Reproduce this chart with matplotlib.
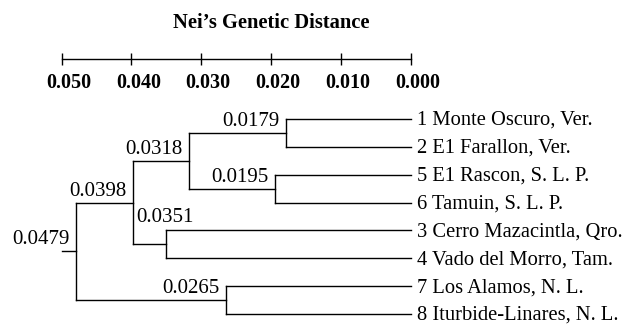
import matplotlib
matplotlib.use("Agg")
import matplotlib.pyplot as plt

plt.rcParams['font.family'] = ['Liberation Serif', 'DejaVu Serif']

# leaves, top to bottom
leaves = ["1 Monte Oscuro, Ver.", "2 E1 Farallon, Ver.", "5 E1 Rascon, S. L. P.",
          "6 Tamuin, S. L. P.", "3 Cerro Mazacintla, Qro.", "4 Vado del Morro, Tam.",
          "7 Los Alamos, N. L.", "8 Iturbide-Linares, N. L."]

# merges: (child a, child b, distance); new node ids continue after the leaves
merge_a = [0, 2, 8, 4, 10, 6, 12]
merge_b = [1, 3, 9, 5, 11, 7, 13]
merge_d = [0.0179, 0.0195, 0.0318, 0.0351, 0.0398, 0.0265, 0.0479]
root_stub = 0.050

scale_ticks = [0.050, 0.040, 0.030, 0.020, 0.010, 0.000]
scale_labels = ["0.050", "0.040", "0.030", "0.020", "0.010", "0.000"]

W, H = 633, 324
fig = plt.figure(figsize=(W / 100, H / 100), dpi=100)

# tree axes, whole figure
ax = fig.add_axes([0, 0, 1, 1])
px = 1 / 6990.0
xlim = (411 * px, -(W - 411) * px)
ax.set_xlim(*xlim)
step = (314 - 119) / 7.0
ax.set_ylim(7 + (H - 314) / step, -119 / step)
ax.axis('off')

xs = [0.0] * len(leaves)
ys = list(range(len(leaves)))
lw = 1.0
for a, b, d in zip(merge_a, merge_b, merge_d):
    ax.plot([d, d], [ys[a], ys[b]], color='black', lw=lw)
    ax.plot([xs[a], d], [ys[a], ys[a]], color='black', lw=lw)
    ax.plot([xs[b], d], [ys[b], ys[b]], color='black', lw=lw)
    xs.append(d)
    ys.append((ys[a] + ys[b]) / 2)
    if d == 0.0351:
        off = (20, 16)
    else:
        off = (-4.5, 5)
    ax.annotate(f"{d:.4f}", (d, ys[-1]), xytext=off, textcoords='offset points',
                ha='right', va='baseline', fontsize=15)
ax.plot([xs[-1], root_stub], [ys[-1], ys[-1]], color='black', lw=lw)

for i, name in enumerate(leaves):
    ax.annotate(name, (0, i), xytext=(4, -4.3), textcoords='offset points',
                ha='left', va='baseline', fontsize=14.8)

# scale bar, same distance scale as the tree
sax = fig.add_axes([0, (H - 58.5) / H, 1, 0.001])
sax.set_xlim(*xlim)
sax.set_ylim(0, 1)
for s in ['top', 'left', 'right']:
    sax.spines[s].set_visible(False)
sax.spines['bottom'].set_linewidth(lw)
sax.spines['bottom'].set_bounds(scale_ticks[0], scale_ticks[-1])
sax.set_yticks([])
sax.set_xticks(scale_ticks)
sax.set_xticklabels([])
sax.tick_params(axis='x', direction='inout', length=8, width=lw)
sax.patch.set_visible(False)
for t, lab in zip(scale_ticks, scale_labels):
    sax.annotate(lab, (t, 0), xytext=(5, -17.5), textcoords='offset points',
                 ha='center', va='center', fontweight='bold', fontsize=14.5)

fig.text(271 / W, (H - 23) / H, "Nei\u2019s Genetic Distance", ha='center', va='center',
         fontweight='bold', fontsize=14.8)

fig.savefig("out.png", dpi=100)
